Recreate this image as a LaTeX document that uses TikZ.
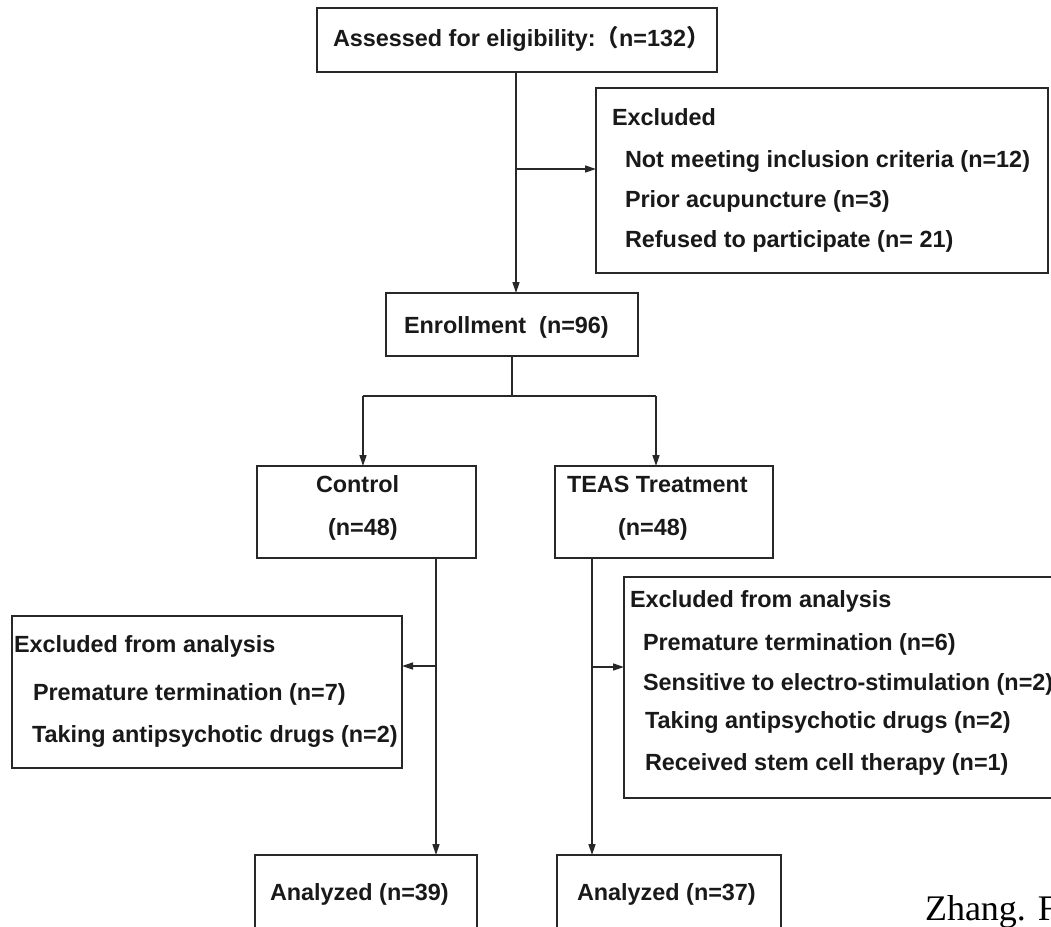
\documentclass[tikz,border=0pt]{standalone}
\usepackage{fontspec}
\setmainfont{Liberation Sans}
\newfontfamily\cjkfont{Noto Sans CJK SC}
\newfontfamily\creditfont{Liberation Serif}
\usetikzlibrary{arrows.meta}
\definecolor{inkline}{RGB}{40,40,40}
\definecolor{inktext}{RGB}{25,25,25}
\tikzset{
  flowbox/.style={draw=inkline,line width=1.9pt,inner sep=0pt,outer sep=0pt},
  flowtext/.style={inner sep=0pt,outer sep=0pt,anchor=base west,text=inktext,font=\bfseries\fontsize{23.4}{28}\selectfont},
  flowline/.style={draw=inkline,line width=1.4pt},
  flowarrow/.style={flowline,-{Triangle[length=11pt,width=7pt]}},
}
\begin{document}
\begin{tikzpicture}[x=1pt,y=-1pt]
\path[use as bounding box,fill=white] (0,0) rectangle (1051,926);
% boxes
\node[flowbox,minimum width=400,minimum height=64] (assess) at (517,40) {};
\node[flowbox,minimum width=452,minimum height=185] (excl) at (822,180.5) {};
\node[flowbox,minimum width=252,minimum height=63] (enrol) at (512,324.5) {};
\node[flowbox,minimum width=219,minimum height=92] (ctrl) at (366.5,512) {};
\node[flowbox,minimum width=218,minimum height=92] (teas) at (664,512) {};
\node[flowbox,minimum width=390,minimum height=152] (exa) at (207,692) {};
\node[flowbox,minimum width=446,minimum height=221] (exb) at (847,687.5) {};
\node[flowbox,minimum width=222,minimum height=90] (ana) at (366,900) {};
\node[flowbox,minimum width=224,minimum height=90] (anb) at (669,900) {};
% texts
\node[flowtext] (assesstxt) at (333,46) {Assessed for eligibility:{\cjkfont （}n=132{\cjkfont ）}};
\node[flowtext] (excltitle) at (612,125) {Excluded};
\node[flowtext] (exclone) at (625,167) {Not meeting inclusion criteria (n=12)};
\node[flowtext] (excltwo) at (625,207) {Prior acupuncture (n=3)};
\node[flowtext] (exclthree) at (625,247) {Refused to participate (n= 21)};
\node[flowtext] (enroltxt) at (404,333) {Enrollment~~(n=96)};
\node[flowtext] (ctrltxt) at (316,492) {Control};
\node[flowtext] (ctrln) at (328,535) {(n=48)};
\node[flowtext] (teastxt) at (567,492) {TEAS Treatment};
\node[flowtext] (teasn) at (618,535) {(n=48)};
\node[flowtext] (exatitle) at (14,652) {Excluded from analysis};
\node[flowtext] (exaone) at (33,700) {Premature termination (n=7)};
\node[flowtext] (exatwo) at (32,742) {Taking antipsychotic drugs (n=2)};
\node[flowtext] (exbtitle) at (630,607) {Excluded from analysis};
\node[flowtext] (exbone) at (643,650) {Premature termination (n=6)};
\node[flowtext] (exbtwo) at (643,690) {Sensitive to electro-stimulation (n=2)};
\node[flowtext] (exbthree) at (645,728) {Taking antipsychotic drugs (n=2)};
\node[flowtext] (exbfour) at (645,770) {Received stem cell therapy (n=1)};
\node[flowtext] (anatxt) at (270,900) {Analyzed (n=39)};
\node[flowtext] (anbtxt) at (577,900) {Analyzed (n=37)};
\node[inner sep=0pt,outer sep=0pt,anchor=base west,text=black,font=\creditfont\fontsize{36}{43}\selectfont] (credit) at (925,920) {Zhang. F};
% connectors
\coordinate (exjoin) at (516,169);
\coordinate (splitc) at (512,396);
\coordinate (splitl) at (363,396);
\coordinate (splitr) at (656,396);
\coordinate (ctrldown) at (436,558);
\coordinate (exajoin) at (436,666);
\coordinate (teasdown) at (592,558);
\coordinate (exbjoin) at (592,667);
\draw[flowarrow] (exjoin |- assess.south) -- (exjoin |- enrol.north);
\draw[flowarrow] (exjoin) -- (exjoin -| excl.west);
\draw[flowline] (splitc |- enrol.south) -- (splitc);
\draw[flowline] (splitl) -- (splitr);
\draw[flowarrow] (splitl) -- (splitl |- ctrl.north);
\draw[flowarrow] (splitr) -- (splitr |- teas.north);
\draw[flowarrow] (ctrldown) -- (ctrldown |- ana.north);
\draw[flowarrow] (exajoin) -- (exajoin -| exa.east);
\draw[flowarrow] (teasdown) -- (teasdown |- anb.north);
\draw[flowarrow] (exbjoin) -- (exbjoin -| exb.west);
\end{tikzpicture}
\end{document}
